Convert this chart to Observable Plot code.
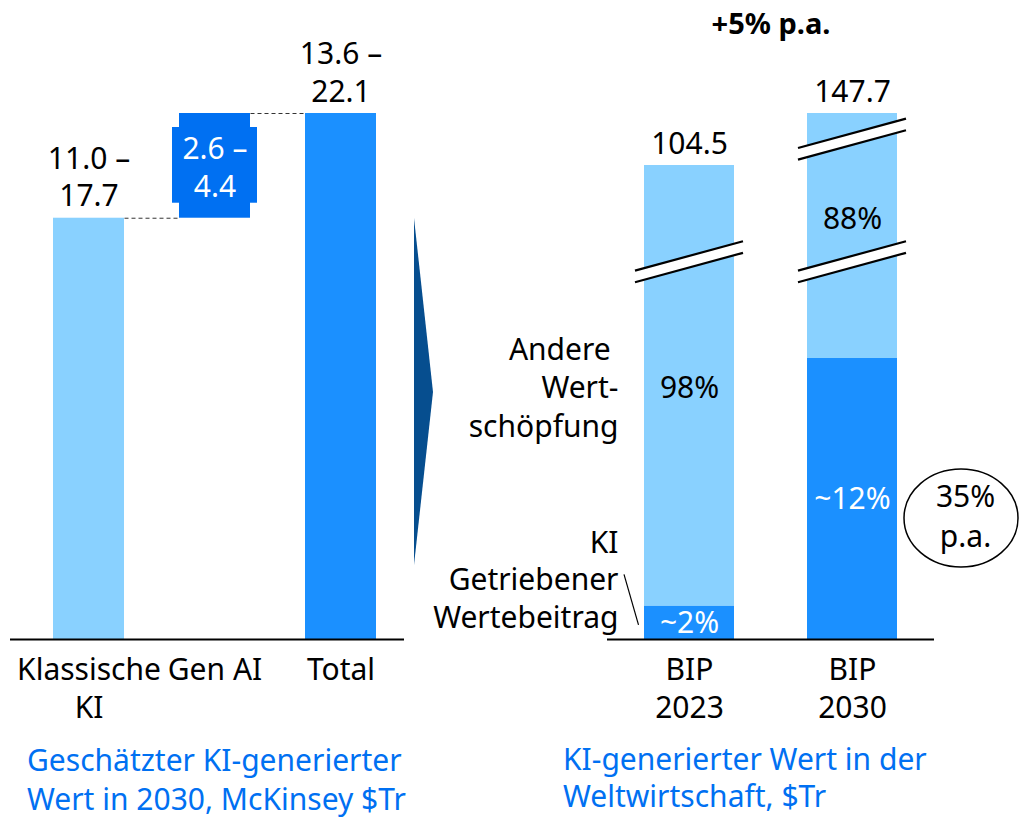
<!DOCTYPE html>
<html><head><meta charset="utf-8">
<script src="https://cdn.jsdelivr.net/npm/d3@7"></script>
<script src="https://cdn.jsdelivr.net/npm/@observablehq/plot@0.6"></script>
<style>
body{margin:0;background:#fff;}
#wrap{position:relative;width:1022px;height:817px;font-family:"Noto Sans",sans-serif;}
.panel{position:absolute;top:0;}
.cap{color:#0070f2;font-size:30px;line-height:37px;white-space:nowrap;}
</style></head><body>
<div id="wrap">
 <div id="left" class="panel" style="left:0;width:440px"></div>
 <div id="right" class="panel" style="left:440px;width:582px"></div>
</div>
<script>
// ---------- Left panel: waterfall (McKinsey estimate, $Tr) ----------
const wfCategories = ["Klassische KI", "Gen AI", "Total"];
const wfTickLabels = ["Klassische\nKI", "Gen AI", "Total"];
const wfLow = [11.0, 2.6, 13.6];
const wfHigh = [17.7, 4.4, 22.1];
const wfCaption = ["Geschätzter KI-generierter", "Wert in 2030, McKinsey $Tr"];

// ---------- Right panel: world GDP, $Tr ----------
const gdpCategories = ["BIP 2023", "BIP 2030"];
const gdpTickLabels = ["BIP\n2023", "BIP\n2030"];
const gdpTotals = [104.5, 147.7];
const aiShare = [2, 12];           // percent of GDP driven by AI
const aiShareLabels = ["~2%", "~12%"];
const otherShareLabels = ["98%", "88%"];
const growthLabel = "+5% p.a.";
const aiGrowthLabel = "35%\np.a.";
const segmentNames = ["KI\nGetriebener\nWertebeitrag", "Andere \nWert-\nschöpfung"];
const breakValues = [[61], [61, 126]];   // axis breaks per bar
const gdpCaption = ["KI-generierter Wert in der", "Weltwirtschaft, $Tr"];

// ---------- styles ----------
const C = {light: "#89d1ff", mid: "#1b90ff", dark: "#0070f2", arrow: "#064e8f", ink: "#000"};
const FONT = '"Noto Sans", sans-serif';
const FS = 30, LH = 1.25;
const H = 735;

// ---------- build waterfall table ----------
let running = 0;
const wf = wfCategories.map((c, i) => {
  const isTotal = i === wfCategories.length - 1;
  const y1 = isTotal ? 0 : running;
  const y2 = isTotal ? wfHigh[i] : running + wfHigh[i];
  if (!isTotal) running = y2;
  return {cat: c, tick: wfTickLabels[i], y1, y2,
    label: `${wfLow[i].toFixed(1)} –\n${wfHigh[i].toFixed(1)}`,
    kind: i === 0 ? "base" : isTotal ? "total" : "delta"};
});
const connectors = wf.slice(0, -1).map((d, i) => ({from: d.cat, to: wf[i + 1].cat, y: d.y2}));

const leftChart = Plot.plot({
  width: 440, height: H,
  marginLeft: 10, marginRight: 36, marginTop: 113, marginBottom: 96,
  style: {fontFamily: FONT, fontSize: FS + "px", background: "transparent", overflow: "visible"},
  x: {type: "band", domain: wfCategories, paddingInner: 0.4387, paddingOuter: 0.2767, align: 0.6, axis: null},
  y: {domain: [0, d3.max(wf, d => d.y2)], axis: null},
  marks: [
    Plot.barY(wf.filter(d => d.kind === "delta"), {x: "cat", y1: "y1", y2: "y2", fill: C.dark,
      insetLeft: -7, insetRight: -7, insetTop: 14, insetBottom: 15}),
    Plot.barY(wf.filter(d => d.kind === "delta"), {x: "cat", y1: "y1", y2: "y2", fill: C.dark}),
    Plot.barY(wf.filter(d => d.kind === "base"), {x: "cat", y1: "y1", y2: "y2", fill: C.light}),
    Plot.barY(wf.filter(d => d.kind === "total"), {x: "cat", y1: "y1", y2: "y2", fill: C.mid}),
    Plot.arrow(connectors, {x1: "from", x2: "to", y1: "y", y2: "y", headLength: 0,
      insetStart: 35.5, insetEnd: 35.5, stroke: "#333", strokeWidth: 1, strokeDasharray: "4,3", strokeLinecap: "butt"}),
    Plot.ruleY([0], {stroke: C.ink, strokeWidth: 2}),
    Plot.text(wf.filter(d => d.kind !== "delta"), {x: "cat", y: "y2", text: "label", lineAnchor: "bottom",
      dy: -12, fontSize: FS, lineHeight: LH, fill: C.ink}),
    Plot.text(wf.filter(d => d.kind === "delta"), {x: "cat", y: d => (d.y1 + d.y2) / 2, text: "label",
      lineAnchor: "middle", fontSize: FS, lineHeight: LH, fill: "#fff"}),
    Plot.text(wf, {x: "cat", text: "tick", frameAnchor: "bottom", lineAnchor: "top", dy: 14,
      fontSize: FS, lineHeight: LH, fill: C.ink})
  ]
});
document.getElementById("left").append(leftChart);
// chevron between the panels
d3.select(leftChart).append("polygon")
  .attr("points", "414,218 433,392 414,565").attr("fill", C.arrow);
const lc = document.createElement("div");
lc.className = "cap"; lc.style.marginTop = "5px"; lc.style.paddingLeft = "27px";
lc.style.lineHeight = "39px";
lc.innerHTML = wfCaption.join("<br>");
document.getElementById("left").append(lc);

// ---------- right panel ----------
const aiValues = gdpTotals.map((t, i) => t * aiShare[i] / 100);
// broken axis: piecewise compression of values into display units
const yBreak = d3.scaleLinear()
  .domain([0, aiValues[1], gdpTotals[0], gdpTotals[1]])
  .range([0, 281, 474, 526]);
const pixMid = (a, b) => yBreak.invert((yBreak(a) + yBreak(b)) / 2);

const segs = gdpCategories.flatMap((c, i) => [
  {cat: c, part: "ai", y1: 0, y2: aiValues[i], label: aiShareLabels[i], mid: pixMid(0, aiValues[i])},
  {cat: c, part: "other", y1: aiValues[i], y2: gdpTotals[i], label: otherShareLabels[i], mid: pixMid(aiValues[i], gdpTotals[i])}
]);
const totals = gdpCategories.map((c, i) => ({cat: c, total: gdpTotals[i], tick: gdpTickLabels[i]}));
const seg = (c, p) => segs.find(d => d.cat === c && d.part === p);

const rightChart = Plot.plot({
  width: 582, height: H,
  marginLeft: 167, marginRight: 88, marginTop: 113, marginBottom: 96,
  style: {fontFamily: FONT, fontSize: FS + "px", background: "transparent", overflow: "visible"},
  x: {type: "band", domain: gdpCategories, paddingInner: 0.445, paddingOuter: 0.2195, axis: null},
  y: {transform: yBreak, domain: [0, yBreak(d3.max(gdpTotals))], axis: null},
  marks: [
    Plot.barY(segs.filter(d => d.part === "other"), {x: "cat", y1: "y1", y2: "y2", fill: C.light}),
    Plot.barY(segs.filter(d => d.part === "ai"), {x: "cat", y1: "y1", y2: "y2", fill: C.mid}),
    Plot.ruleY([0], {stroke: C.ink, strokeWidth: 2}),
    Plot.text(totals, {x: "cat", y: "total", text: d => d.total.toFixed(1), lineAnchor: "bottom", dy: -12,
      fontSize: FS, fill: C.ink}),
    Plot.text(segs.filter(d => d.part === "ai"), {x: "cat", y: "mid", text: "label", fontSize: FS, fill: "#fff"}),
    Plot.text([seg(gdpCategories[0], "other")], {x: "cat", y: "mid", text: "label", dy: 2, fontSize: FS, fill: C.ink}),
    Plot.text([seg(gdpCategories[1], "other")], {x: "cat", y: "mid", text: "label", dy: -17, fontSize: FS, fill: C.ink}),
    Plot.text([seg(gdpCategories[0], "other")], {x: "cat", y: "mid", text: () => segmentNames[1],
      textAnchor: "end", dx: -71, lineAnchor: "middle", fontSize: FS, lineHeight: 1.28, fill: C.ink}),
    Plot.text([seg(gdpCategories[0], "ai")], {x: "cat", y: "mid", text: () => segmentNames[0],
      textAnchor: "end", dx: -71, dy: 5, lineAnchor: "bottom", fontSize: FS, lineHeight: 1.25, fill: C.ink}),
    Plot.text([seg(gdpCategories[1], "ai")], {x: "cat", y: "mid", text: () => aiGrowthLabel,
      dx: 113, dy: 15, lineAnchor: "middle", fontSize: FS, lineHeight: 1.33, fill: C.ink}),
    Plot.text([growthLabel], {frameAnchor: "top", lineAnchor: "bottom", dy: 33 - 113, fontSize: 29,
      fontWeight: "bold", fill: C.ink, letterSpacing: "0.8px"}),
    Plot.text(totals, {x: "cat", text: "tick", frameAnchor: "bottom", lineAnchor: "top", dy: 14,
      fontSize: FS, lineHeight: LH, fill: C.ink})
  ]
});
document.getElementById("right").append(rightChart);

// decorations tied to the chart's scales
const sx = rightChart.scale("x"), sy = rightChart.scale("y");
const py = v => sy.apply(yBreak(v));
const g = d3.select(rightChart).append("g");
gdpCategories.forEach((c, i) => {
  const b0 = sx.apply(c), bw = sx.bandwidth;
  const x0 = b0 - 9, x1 = b0 + bw + 9, half = (x1 - x0) / 2, slope = 30 / 110;
  breakValues[i].forEach(v => {
    const yc = py(v), gap = 5.8;
    const up = [[x0, yc - gap + slope * half], [x1, yc - gap - slope * half]];
    const lo = [[x0, yc + gap + slope * half], [x1, yc + gap - slope * half]];
    g.append("polygon").attr("points", [up[0], up[1], lo[1], lo[0]].map(p => p.join(",")).join(" "))
      .attr("fill", "#fff");
    [up, lo].forEach(l => g.append("line")
      .attr("x1", l[0][0]).attr("y1", l[0][1]).attr("x2", l[1][0]).attr("y2", l[1][1])
      .attr("stroke", C.ink).attr("stroke-width", 2.2));
  });
});
{
  const b0 = sx.apply(gdpCategories[0]);
  const ym = py(seg(gdpCategories[0], "ai").mid);
  g.append("line").attr("x1", b0 - 20).attr("y1", ym - 48).attr("x2", b0 - 5.5).attr("y2", ym + 2.5)
    .attr("stroke", C.ink).attr("stroke-width", 1.2);
  const b1 = sx.apply(gdpCategories[1]) + sx.bandwidth;
  const ym2 = py(seg(gdpCategories[1], "ai").mid);
  g.append("ellipse").attr("cx", b1 + 64).attr("cy", ym2 + 19.5).attr("rx", 57).attr("ry", 49)
    .attr("fill", "none").attr("stroke", C.ink).attr("stroke-width", 1.5);
}
const rc = document.createElement("div");
rc.className = "cap"; rc.style.marginTop = "5px"; rc.style.paddingLeft = "123px";
rc.innerHTML = gdpCaption.join("<br>");
document.getElementById("right").append(rc);
</script>
</body></html>
